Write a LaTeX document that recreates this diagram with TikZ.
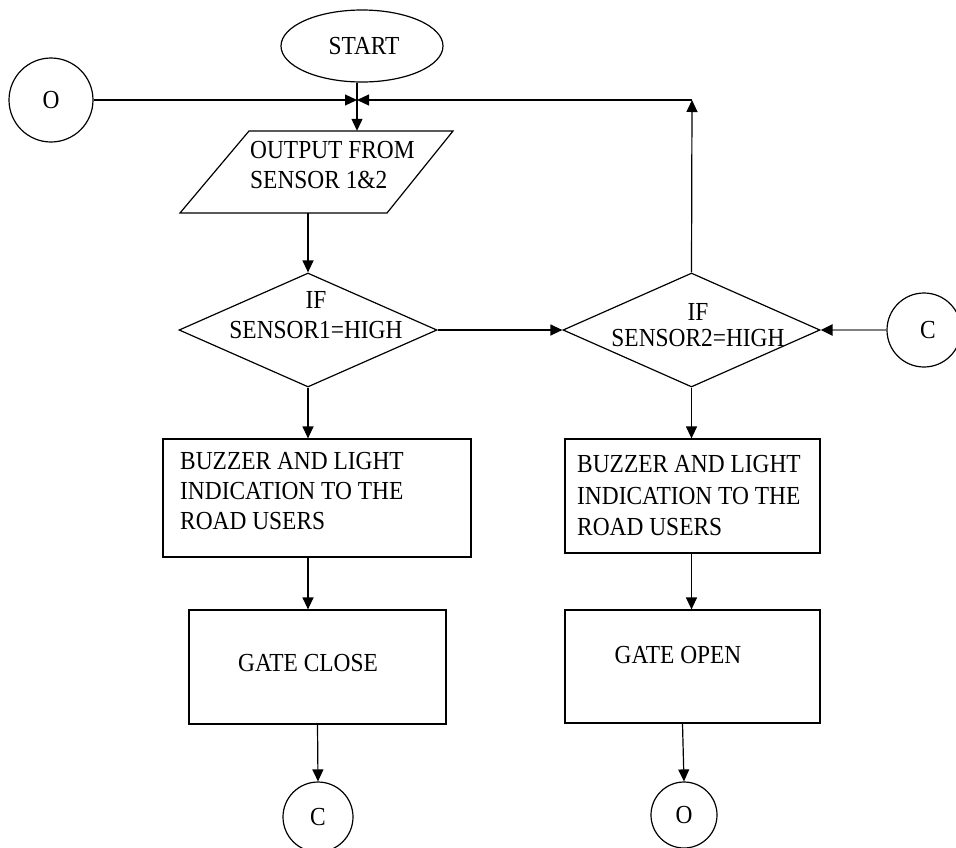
\documentclass[tikz,border=0pt]{standalone}
\usepackage{fontspec}
\setmainfont[FakeStretch=0.9]{Liberation Serif}
\usetikzlibrary{shapes.geometric,arrows.meta}
\begin{document}
\begin{tikzpicture}[x=1pt,y=-1pt,
  every node/.style={font=\fontsize{26}{30}\selectfont},
  shp/.style={draw, line width=1.2pt, inner sep=0pt},
  boxn/.style={shp, rectangle},
  conn/.style={shp, circle},
  dia/.style={shp, diamond},
  lbl/.style={inner sep=0pt, align=left},
  lblc/.style={inner sep=0pt, align=center},
  arr/.style={line width=1.2pt, -{Triangle[length=12pt,width=11pt]}},
  grayarr/.style={line width=2.6pt, draw=black!50, -{Triangle[length=12pt,width=11pt,fill=black,color=black]}}
]
\useasboundingbox (0,0) rectangle (956,847);
\clip (0,0) rectangle (956,847);

% shapes
\node[shp, ellipse, minimum width=162pt, minimum height=72pt] (start) at (362,46) {};
\node[conn, minimum size=84pt] (oL) at (51,100) {};
\node[draw=none, minimum width=273pt, minimum height=82pt, inner sep=0pt] (in) at (316.5,172) {};
\draw[line width=1.2pt] (249,131) -- (453,131) -- (387,213) -- (180,213) -- cycle;
\node[dia, minimum width=258pt, minimum height=114pt] (d1) at (308,330) {};
\node[dia, minimum width=257pt, minimum height=114pt] (d2) at (691.5,330) {};
\node[conn, minimum size=74pt] (cR) at (924,330) {};
\node[boxn, minimum width=308pt, minimum height=118pt] (b1) at (317,498) {};
\node[boxn, minimum width=257pt, minimum height=114pt] (b2) at (317.5,667) {};
\node[boxn, minimum width=255pt, minimum height=114pt] (b3) at (692.5,496) {};
\node[boxn, minimum width=255pt, minimum height=113pt] (b4) at (692.5,666.5) {};
\node[conn, minimum size=70pt] (cB) at (318,817) {};
\node[conn, minimum size=66pt] (oB) at (684,815) {};

\coordinate (j) at (357,100);
\coordinate (k) at (692,100);

% texts
\node[lblc] (tstart) at (364,46) {START};
\node[lblc] (toL) at (51,100) {O};
\node[lbl, anchor=west] (tin) at (250,165) {OUTPUT FROM\\SENSOR 1\&2};
\node[lblc] (td1) at (316,315) {IF\\SENSOR1=HIGH};
\node[lblc, font=\fontsize{26}{26}\selectfont] (td2) at (698,325) {IF\\SENSOR2=HIGH};
\node[lblc] (tcR) at (928,330) {C};
\node[lbl, anchor=west] (tb1) at (180,491) {BUZZER AND LIGHT\\INDICATION TO THE\\ROAD USERS};
\node[lbl, anchor=west, font=\fontsize{26}{31.5}\selectfont] (tb3) at (577,496) {BUZZER AND LIGHT\\INDICATION TO THE\\ROAD USERS};
\node[lblc] (tb2) at (308,663) {GATE CLOSE};
\node[lblc] (tb4) at (678,655) {GATE OPEN};
\node[lblc] (tcB) at (318,817) {C};
\node[lblc] (toB) at (684,815) {O};

% connectors
\draw[arr] (start.south -| j) -- (in.north -| j);
\draw[arr] (oL.east) -- (j);
\draw[arr] (d2.north) -- (k);
\draw[arr] (k) -- (j);
\draw[arr] (d1.north |- in.south) -- (d1.north);
\draw[arr] (d1.east) -- (d2.west);
\draw[grayarr] (cR.west) -- (d2.east);
\draw[arr] (d1.south) -- (d1.south |- b1.north);
\draw[arr] (b1.south -| d1.south) -- (b2.north -| d1.south);
\draw[arr] (b2.south) -- (cB.north);
\draw[arr] (d2.south) -- (d2.south |- b3.north);
\draw[arr] (b3.south -| d2.south) -- (b4.north -| d2.south);
\draw[arr] ([xshift=-10pt]b4.south) -- (oB.north);
\end{tikzpicture}
\end{document}
